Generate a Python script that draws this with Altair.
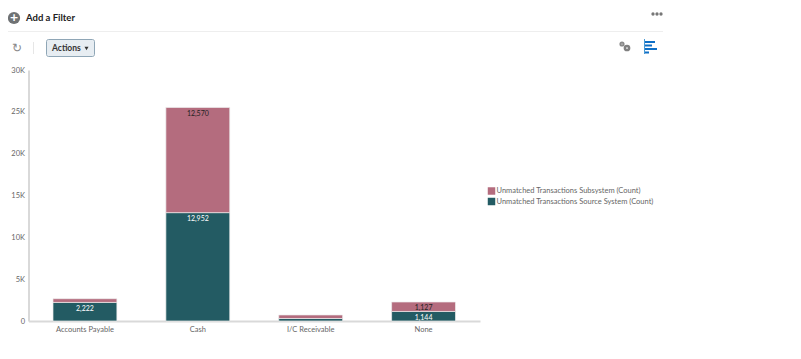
import altair as alt
import pandas as pd

categories = ["Accounts Payable", "Cash", "I/C Receivable", "None"]
source_values = [2222, 12952, 300, 1144]
subsystem_values = [443, 12570, 420, 1127]
source_labels = ["2,222", "12,952", "", "1,144"]
subsystem_labels = ["", "12,570", "", "1,127"]
SUB = "Unmatched Transactions Subsystem (Count)"
SRC = "Unmatched Transactions Source System (Count)"
FONT = "Lato"
PINK, TEAL = "#b46c7e", "#235b63"

rows = []
for c, v, l in zip(categories, source_values, source_labels):
    rows.append(dict(cat=c, series=SRC, value=v, label=l, rank=0))
for c, v, l in zip(categories, subsystem_values, subsystem_labels):
    rows.append(dict(cat=c, series=SUB, value=v, label=l, rank=1))
df = pd.DataFrame(rows)

x = alt.X("cat:N", sort=categories, title=None,
          scale=alt.Scale(paddingInner=0.434, paddingOuter=0.217),
          axis=alt.Axis(labelAngle=0, labelFont=FONT, labelFontSize=7.5, labelColor="#666666",
                        domainColor="#d9d9d9", domainWidth=2, ticks=False, labelPadding=4))
y = alt.Y("value:Q", stack="zero", title=None,
          scale=alt.Scale(domain=[0, 30000], nice=False),
          axis=alt.Axis(values=[0, 5000, 10000, 15000, 20000, 25000, 30000], grid=False, ticks=False,
                        labelExpr="datum.value == 0 ? '0' : datum.value / 1000 + 'K'",
                        labelFont=FONT, labelFontSize=7.5, labelColor="#666666",
                        domainColor="#d9d9d9", domainWidth=2, labelPadding=4))
order = alt.Order("rank:Q", sort="ascending")

bars = alt.Chart(df).mark_bar(stroke="#eeeeee", strokeWidth=0.7).encode(
    x=x, y=y, order=order,
    color=alt.Color("series:N", sort=[SUB, SRC],
                    scale=alt.Scale(domain=[SUB, SRC], range=[PINK, TEAL]),
                    legend=alt.Legend(title=None, orient="none", legendX=459, legendY=117,
                                      symbolType="square", symbolSize=56, symbolStrokeWidth=0,
                                      labelFont=FONT, labelFontSize=7.5, labelColor="#666666",
                                      rowPadding=2.5, labelOffset=1, labelLimit=260)))

text = alt.Chart(df).mark_text(font=FONT, fontSize=7, baseline="middle", dy=6.5).encode(
    x=x, y=y, order=order, text="label:N",
    color=alt.Color("series:N", legend=None,
                    scale=alt.Scale(domain=[SUB, SRC], range=["#222222", "#ffffff"])))


def one():
    return alt.Chart(pd.DataFrame({"a": [0]}))


def label(t, px, py, **kw):
    return one().mark_text(text=t, font=FONT, **kw).encode(x=alt.value(px), y=alt.value(py))


def box(x0, x1, y0, y1, **kw):
    return one().mark_rect(**kw).encode(x=alt.value(x0), x2=alt.value(x1), y=alt.value(y0), y2=alt.value(y1))


def dot(px, py, size, color, **kw):
    return one().mark_point(shape="circle", size=size, color=color, opacity=1, **kw).encode(
        x=alt.value(px), y=alt.value(py))


# Offsets: plot origin is at page (28.5, 70)
OX, OY = 28.5, 70
chrome = [
    box(4 - OX, 663 - OX, 31 - OY, 32 - OY, color="#eeeeee"),
    dot(14 - OX, 18 - OY, 150, "#6f7274", filled=True),
    label("+", 14 - OX, 17.5 - OY, fontSize=14, fontWeight="bold", color="#ffffff", align="center", baseline="middle"),
    label("Add a Filter", 26 - OX, 18 - OY, fontSize=9.5, fontWeight="bold", color="#222222", align="left", baseline="middle"),
    dot(653 - OX, 14 - OY, 11, "#777777", filled=True),
    dot(657 - OX, 14 - OY, 11, "#777777", filled=True),
    dot(661 - OX, 14 - OY, 11, "#777777", filled=True),
    label("↻", 17 - OX, 48 - OY, fontSize=12, color="#8a8a8a", align="center", baseline="middle"),
    box(33 - OX, 34 - OX, 42 - OY, 54 - OY, color="#e6e6e6"),
    box(46.5 - OX, 94.5 - OX, 39.5 - OY, 56.5 - OY, fill="#e7edf2", stroke="#8fa6b6", strokeWidth=1, cornerRadius=2),
    label("Actions", 52 - OX, 47.5 - OY, fontSize=8.5, fontWeight="bold", color="#333333", align="left", baseline="middle"),
    one().mark_point(filled=True, shape="triangle-down", size=16, color="#333333", opacity=1).encode(x=alt.value(86.5 - OX), y=alt.value(48.5 - OY)),
    dot(622 - OX, 44 - OY, 10, "#8a8a8a", filled=False, strokeWidth=2),
    dot(627 - OX, 48 - OY, 18, "#808080", filled=False, strokeWidth=2.5),
    box(644 - OX, 645 - OX, 39 - OY, 54 - OY, color="#4a9ad4"),
    box(645 - OX, 655 - OX, 41 - OY, 43 - OY, color="#0f6fc6"),
    box(645 - OX, 652 - OX, 44.5 - OY, 46.5 - OY, color="#0f6fc6"),
    box(645 - OX, 657 - OX, 48 - OY, 50 - OY, color="#0f6fc6"),
    box(645 - OX, 649 - OX, 51.5 - OY, 53.5 - OY, color="#0f6fc6"),
]

chart = alt.layer(bars, text, *chrome).resolve_scale(color="independent").properties(
    width=451.5, height=251,
    autosize=alt.AutoSizeParams(type="none"),
    padding={"left": 20.5, "top": 62, "right": 300, "bottom": 28},
    background="#ffffff",
).configure_view(stroke=None)

chart.save("out.html", embed_options={"renderer": "svg", "actions": False})
